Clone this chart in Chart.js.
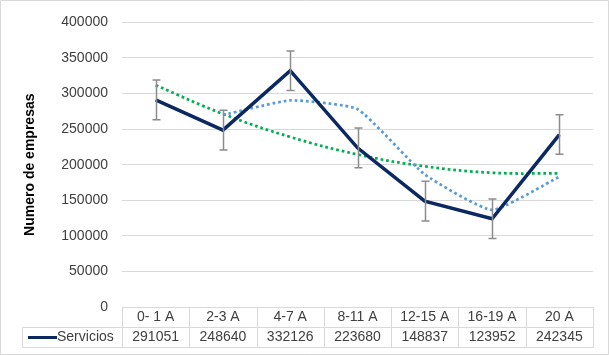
<!DOCTYPE html>
<html><head><meta charset="utf-8">
<script src="https://cdn.jsdelivr.net/npm/chart.js@4/dist/chart.umd.min.js"></script>
<style>html,body{margin:0;padding:0;background:#fff;}#wrap{width:609px;height:355px;}</style>
</head><body><div id="wrap"><canvas id="c" width="609" height="355"></canvas></div>
<script>
const categories = ['0- 1 A', '2-3 A', '4-7 A', '8-11 A', '12-15 A', '16-19 A', '20 A'];
const seriesName = 'Servicios';
const servicios = [291051, 248640, 332126, 223680, 148837, 123952, 242345];
const errorBars = [27830, 27830, 27830, 27830, 27830, 27830, 27830];
const movingAverage = [null, 269846, 290383, 277903, 186259, 136395, 183149];
const polyTrend = [311700, 271400, 239000, 214400, 197700, 188700, 187700];
const yMin = 0, yMax = 400000, yStep = 50000;
const yTitle = 'Numero de empresas';

const FONT = '"Liberation Sans", Arial, sans-serif';
const NAVY = '#0c2860';
const TEXT = '#404040';
const GRID = '#d9d9d9';

const frameAndTable = {
  id: 'frameAndTable',
  beforeDraw(chart) {
    const ctx = chart.ctx;
    ctx.save();
    ctx.fillStyle = '#fff';
    ctx.fillRect(0, 0, chart.width, chart.height);
    ctx.restore();
  },
  afterDraw(chart) {
    const ctx = chart.ctx, xs = chart.scales.x, area = chart.chartArea;
    const n = categories.length;
    const cw = (xs.right - xs.left) / n;
    const top = Math.round(area.bottom) + 0.5, mid = top + 20, bot = top + 40;
    const keyLeft = 22.5;
    const L = Math.round(xs.left) + 0.5, R = Math.round(xs.right) + 0.5;
    ctx.save();
    ctx.strokeStyle = GRID; ctx.lineWidth = 1;
    const ln = (a, b, c, d) => { ctx.beginPath(); ctx.moveTo(a, b); ctx.lineTo(c, d); ctx.stroke(); };
    ln(L, top, R, top);
    ln(keyLeft, mid, R, mid);
    ln(keyLeft, bot, R, bot);
    ln(keyLeft, mid, keyLeft, bot);
    for (let i = 0; i <= n; i++) {
      const bx = Math.round(xs.left + i * cw) + 0.5;
      ln(bx, top, bx, bot);
    }
    // outer frame
    ln(0.5, 0.5, chart.width - 0.5, 0.5);
    ln(0.5, 0.5, 0.5, chart.height - 0.5);
    ln(chart.width - 0.5, 0.5, chart.width - 0.5, chart.height - 0.5);
    ln(0.5, chart.height - 0.5, chart.width - 0.5, chart.height - 0.5);
    // texts
    ctx.fillStyle = TEXT;
    ctx.font = '14px ' + FONT;
    ctx.textAlign = 'center'; ctx.textBaseline = 'middle';
    for (let i = 0; i < n; i++) {
      const cx = xs.getPixelForValue(i);
      ctx.fillText(categories[i], cx, top + 10);
      ctx.fillText(String(servicios[i]), cx, mid + 10);
    }
    // legend key
    ctx.strokeStyle = NAVY; ctx.lineWidth = 3;
    ln(28, mid + 10, 57, mid + 10);
    ctx.textAlign = 'left';
    ctx.fillText(seriesName, 57, mid + 10);
    ctx.restore();
  },
  afterDatasetsDraw(chart) {
    const ctx = chart.ctx, ys = chart.scales.y;
    const meta = chart.getDatasetMeta(2);
    ctx.save();
    ctx.strokeStyle = '#8c8c8c'; ctx.lineWidth = 1.5;
    meta.data.forEach((pt, i) => {
      const v = servicios[i], e = errorBars[i];
      const x = Math.round(pt.x) + 0.5;
      const y1 = ys.getPixelForValue(v + e), y2 = ys.getPixelForValue(v - e);
      ctx.beginPath();
      ctx.moveTo(x, y1); ctx.lineTo(x, y2);
      ctx.moveTo(x - 4, y1); ctx.lineTo(x + 4, y1);
      ctx.moveTo(x - 4, y2); ctx.lineTo(x + 4, y2);
      ctx.stroke();
    });
    ctx.restore();
  }
};

new Chart(document.getElementById('c'), {
  type: 'line',
  data: {
    labels: categories,
    datasets: [
      { label: 'Polinómica', data: polyTrend, borderColor: '#00b050', borderWidth: 2.75,
        borderDash: [2.75, 2.9], tension: 0.4, pointRadius: 0, fill: false, order: 2 },
      { label: 'Media móvil', data: movingAverage, borderColor: '#5b9bd5', borderWidth: 2.75,
        borderDash: [2.75, 2.9], tension: 0.15, pointRadius: 0, fill: false, spanGaps: true, order: 1 },
      { label: seriesName, data: servicios, borderColor: NAVY, borderWidth: 3.5,
        tension: 0, pointRadius: 0, fill: false, order: 0 }
    ]
  },
  options: {
    responsive: false,
    animation: false,
    devicePixelRatio: 1,
    layout: { padding: { left: 0, top: 17, right: 16, bottom: 48 } },
    plugins: { legend: { display: false }, tooltip: { enabled: false } },
    scales: {
      x: { type: 'category', display: false, offset: true },
      y: {
        min: yMin, max: yMax,
        afterFit(scale) { scale.width = 122; },
        ticks: { stepSize: yStep, padding: 14, color: TEXT, font: { family: FONT, size: 14 },
          callback: (v) => String(v) },
        grid: { color: GRID, lineWidth: 1, drawTicks: false },
        border: { display: false },
        title: { display: true, text: yTitle, color: '#000', padding: { top: 22, bottom: 0 },
          font: { family: FONT, size: 14, weight: 'bold' } }
      }
    }
  },
  plugins: [frameAndTable]
});
</script></body></html>
